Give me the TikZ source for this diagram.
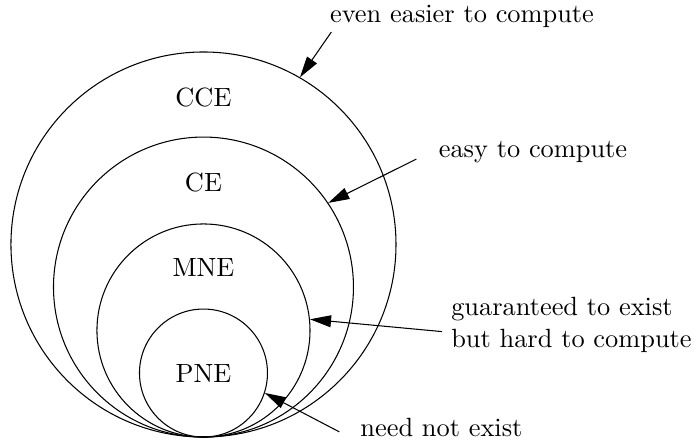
\documentclass[tikz,border=0pt]{standalone}
\usepackage{tikz}
\usetikzlibrary{shapes,arrows,positioning,calc,arrows.meta}

\begin{document}
\begin{tikzpicture}[
    set/.style={circle, draw, inner sep=0pt},
    pointer/.style={-{Triangle[length=8pt,width=4.5pt]}}
]
    \useasboundingbox (-2.712,-0.093) rectangle (6.538,5.825);

    \node[set, minimum size=5.132cm] (cce) at (0, 2.566) {};
    \node (ccelbl) at (0, 4.532) {CCE};

    \node[set, minimum size=3.998cm] (ce) at (0, 1.999) {};
    \node (celbl) at (0, 3.399) {CE};

    \node[set, minimum size=2.84cm] (mne) at (0, 1.42) {};
    \node (mnelbl) at (0, 2.266) {MNE};

    \node[set, minimum size=1.706cm] (pne) at (0, 0.853) {};
    \node (pnelbl) at (0, 0.853) {PNE};

    \node (even) at (3.446, 5.601) {even easier to compute};
    \draw[pointer] ([shift={(4pt,2pt)}]even.south west) -- (cce.60);

    \node (easy) at (4.392, 3.792) {easy to compute};
    \draw[pointer] ([shift={(-5pt,-2.5pt)}]easy.west) -- (ce.34);

    \node[align=left, anchor=west] (guar) at (3.179, 1.493) {guaranteed to exist\\but hard to compute};
    \draw[pointer] ([yshift=-2.5pt]guar.west) -- (mne.6);

    \node (need) at (3.172, 0.122) {need not exist};
    \draw[pointer] ([shift={(-4.5pt,-1.5pt)}]need.west) -- (pne.-18);
\end{tikzpicture}
\end{document}
